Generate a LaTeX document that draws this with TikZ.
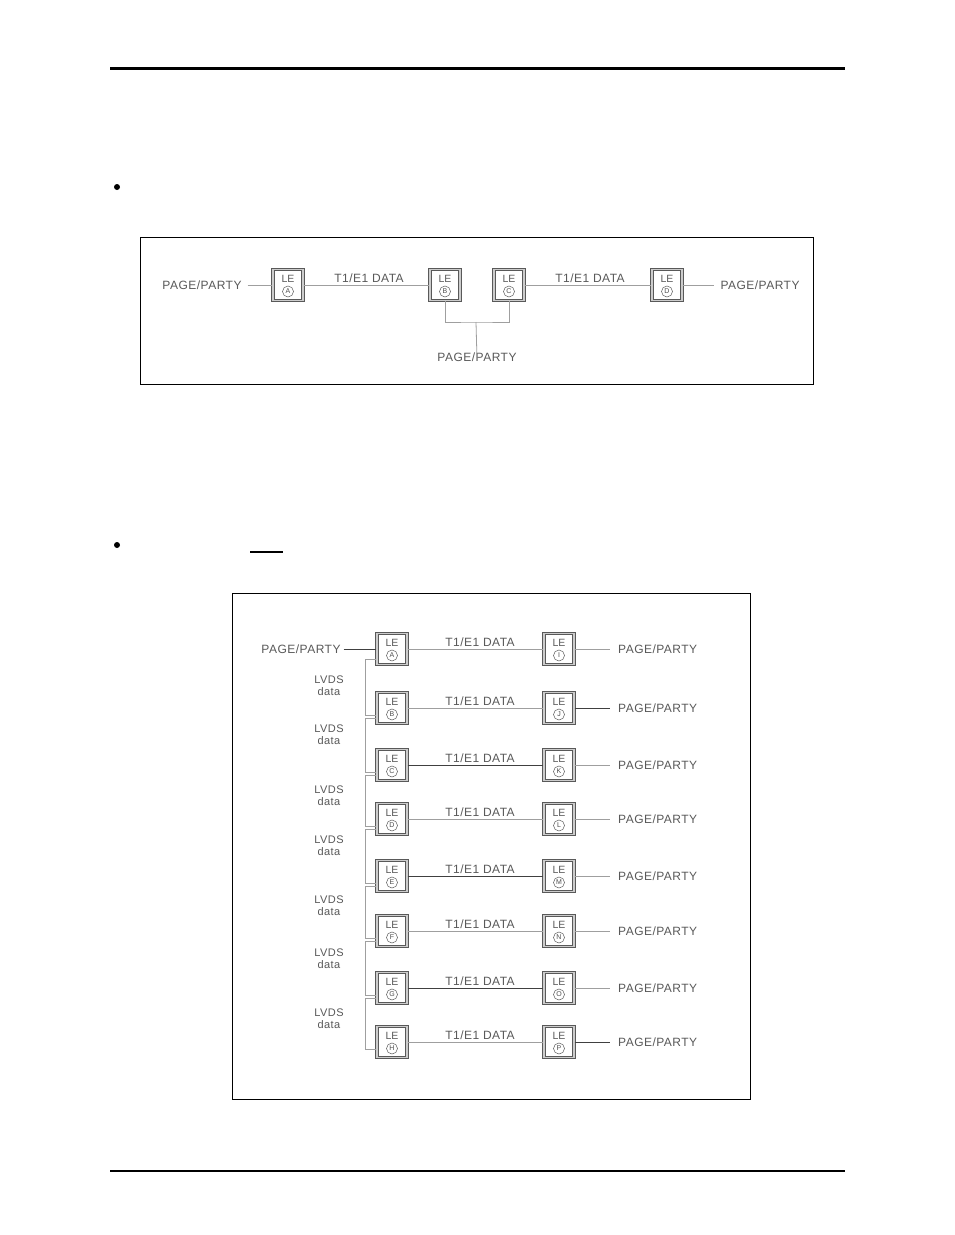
\documentclass[tikz,border=0pt]{standalone}
\usepackage{fontspec}
\setmainfont{Liberation Sans}
\begin{document}
\begin{tikzpicture}[x=1pt,y=-1pt,
  lbl/.style={font=\fontsize{12}{12}\selectfont\addfontfeature{LetterSpace=4}, text=black!65, inner sep=0pt},
  small/.style={font=\fontsize{11}{12}\selectfont\addfontfeature{LetterSpace=4}, text=black!65, inner sep=0pt, align=center},
  lebox/.style={draw=black!65, line width=1.1pt, double=gray!40, double distance=1.3pt, minimum width=30pt, minimum height=31pt, inner sep=0pt},
  letxt/.style={font=\fontsize{10.5}{10.5}\selectfont, text=black!65, inner sep=0pt},
  circl/.style={draw=black!65, circle, line width=0.5pt, minimum size=11pt, inner sep=0pt, font=\fontsize{7}{7}\selectfont, text=black!70},
  wire/.style={draw=gray!75, line width=0.8pt},
  dwire/.style={draw=black!75, line width=0.8pt},
  frame/.style={draw=black, line width=1.2pt}]
\newcommand\lebx[3]{%
  \node[lebox] (#1) at (#2) {};
  \node[letxt] (#1t) at ([yshift=6.5]#1.center) {LE};
  \node[circl] (#1c) at ([yshift=-6.5]#1.center) {#3};}
\useasboundingbox (0,0) rectangle (954,1235);
\fill[white] (0,0) rectangle (954,1235);
% page rules
\draw[line width=3pt] (110,68) -- (845,68);
\draw[line width=1.8pt] (110,1171) -- (845,1171);
% bullets
\fill (117,187) circle (3pt);
\fill (117,545) circle (3pt);
\draw[line width=1.2pt] (250,552) -- (283,552);
% ---- diagram 1
\node[frame, minimum width=673pt, minimum height=147pt, anchor=north west] (frame1) at (140,237) {};
\lebx{A1}{288,285}{A}
\lebx{B1}{445,285}{B}
\lebx{C1}{509,285}{C}
\lebx{D1}{667,285}{D}
\node[lbl] (pp1) at (202,285) {PAGE/PARTY};
\node[lbl] (pp2) at (760,285) {PAGE/PARTY};
\node[lbl] (pp3) at (477,357) {PAGE/PARTY};
\node[lbl] (t1a) at (369,278) {T1/E1 DATA};
\node[lbl] (t1b) at (590,278) {T1/E1 DATA};
\draw[wire] (pp1.east) ++(6,0) coordinate (pp1e) -- (A1.west);
\draw[wire] (A1.east) -- (B1.west);
\draw[wire] (C1.east) -- (D1.west);
\draw[wire] (D1.east) -- ([xshift=-6]pp2.west);
\coordinate (mid1) at (476,322);
\draw[wire] (B1.south) |- (mid1) -| (C1.south);
\draw[wire] (mid1) -- ([yshift=-7]pp3.north);
% ---- diagram 2
\node[frame, minimum width=518pt, minimum height=506pt, anchor=north west] (frame2) at (232,593) {};
\foreach \n/\L/\R/\y/\tc/\pc in {1/A/I/649/wire/wire, 2/B/J/708/wire/dwire, 3/C/K/765/dwire/wire, 4/D/L/819/wire/wire, 5/E/M/876/dwire/wire, 6/F/N/931/wire/wire, 7/G/O/988/dwire/wire, 8/H/P/1042/wire/dwire}{
  \lebx{L\n}{392,\y}{\L}
  \lebx{R\n}{559,\y}{\R}
  \node[lbl] (T\n) at (480,\y-7) {T1/E1 DATA};
  \node[lbl, anchor=west] (P\n) at (618,\y) {PAGE/PARTY};
  \draw[\tc] (L\n.east) -- (R\n.west);
  \draw[\pc] (R\n.east) -- ([xshift=-8]P\n.west);
}
\node[lbl] (P0) at (301,649) {PAGE/PARTY};
\draw[dwire] ([xshift=3]P0.east) -- (L1.west);
\foreach \a/\b/\y in {1/2/686, 2/3/735, 3/4/796, 4/5/846, 5/6/906, 6/7/959, 7/8/1019}{
  \node[small] (V\a) at (329,\y) {LVDS\\data};
  \draw[wire] ([yshift=-10]L\a.west) -- ++(-11,0) |- ([yshift=-7]L\b.west);
}
\end{tikzpicture}
\end{document}
